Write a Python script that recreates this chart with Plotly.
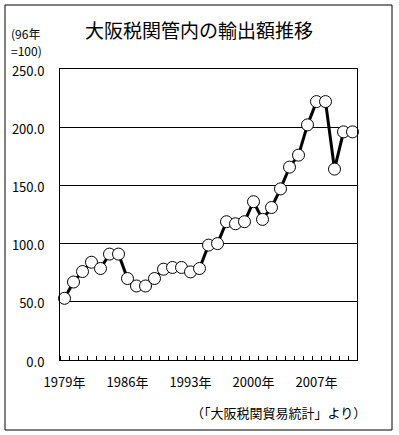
import plotly.graph_objects as go

years = list(range(1979, 2012))
values = [53, 67, 76, 84, 78.6, 91, 91, 70, 63.6, 63.6, 70, 78, 79.5, 79.5, 75.7,
          78.6, 98.7, 100, 118.8, 117, 118.8, 136, 120.8, 131, 147, 165.7, 176,
          202, 222, 222, 164, 196, 196]
label_years = [1979, 1986, 1993, 2000, 2007]
label_text = [f"{y}年" for y in label_years]
y_ticks = [0, 50, 100, 150, 200, 250]

FONT = "Noto Sans CJK JP"
W, H = 399, 435
L, R, T, B = 60, 42, 69, 75
pw, ph = W - L - R, H - T - B


def px(x):
    return (x - L) / pw


def py(y):
    return (H - B - y) / ph


fig = go.Figure()
fig.add_trace(go.Scatter(
    x=years, y=values, mode="lines+markers",
    line=dict(color="black", width=3),
    marker=dict(symbol="circle", size=12, color="white",
                line=dict(color="black", width=1)),
    cliponaxis=False, showlegend=False,
))

fig.update_layout(
    width=W, height=H,
    margin=dict(l=L, r=R, t=T, b=B),
    paper_bgcolor="white", plot_bgcolor="white",
    font=dict(family=FONT, size=13, color="black"),
    xaxis=dict(
        range=[1978.5, 2011.5],
        tickmode="array", tickvals=label_years, ticktext=label_text,
        ticks="", showgrid=False, zeroline=False,
        showline=True, linecolor="black", linewidth=1, mirror=True,
        ticklabelstandoff=10,
        tickfont=dict(family=FONT, size=13),
        minor=dict(tickmode="linear", tick0=1978.5, dtick=1,
                   ticks="inside", ticklen=4, tickcolor="black",
                   tickwidth=1, showgrid=False),
    ),
    yaxis=dict(
        range=[0, 250],
        tickmode="array", tickvals=y_ticks,
        ticktext=[f"{v:.1f}" for v in y_ticks],
        ticks="", showgrid=True, gridcolor="black", gridwidth=1,
        zeroline=False,
        showline=True, linecolor="black", linewidth=1, mirror=True,
        ticklabelstandoff=12, ticklabelshift=2,
        tickfont=dict(family=FONT, size=13),
    ),
    shapes=[dict(type="rect", xref="paper", yref="paper",
                 x0=px(5), x1=px(392), y0=py(430), y1=py(5),
                 line=dict(color="black", width=1))],
    annotations=[
        dict(text="大阪税関管内の輸出額推移", xref="paper", yref="paper",
             x=px(199), y=py(29), xanchor="center", yanchor="middle",
             showarrow=False, font=dict(family=FONT, size=19)),
        dict(text="(96年", xref="paper", yref="paper",
             x=px(9), y=py(33), xanchor="left", yanchor="middle",
             showarrow=False, font=dict(family=FONT, size=12)),
        dict(text="=100)", xref="paper", yref="paper",
             x=px(9), y=py(50), xanchor="left", yanchor="middle",
             showarrow=False, font=dict(family=FONT, size=12)),
        dict(text="（「大阪税関貿易統計」より）", xref="paper", yref="paper",
             x=px(368), y=py(412), xanchor="right", yanchor="middle",
             showarrow=False, font=dict(family=FONT, size=13)),
    ],
)

fig.write_html("out.html",
               config={"displayModeBar": False},
               post_script="document.body.style.margin='0px';"
                           "document.body.style.overflow='hidden';")
